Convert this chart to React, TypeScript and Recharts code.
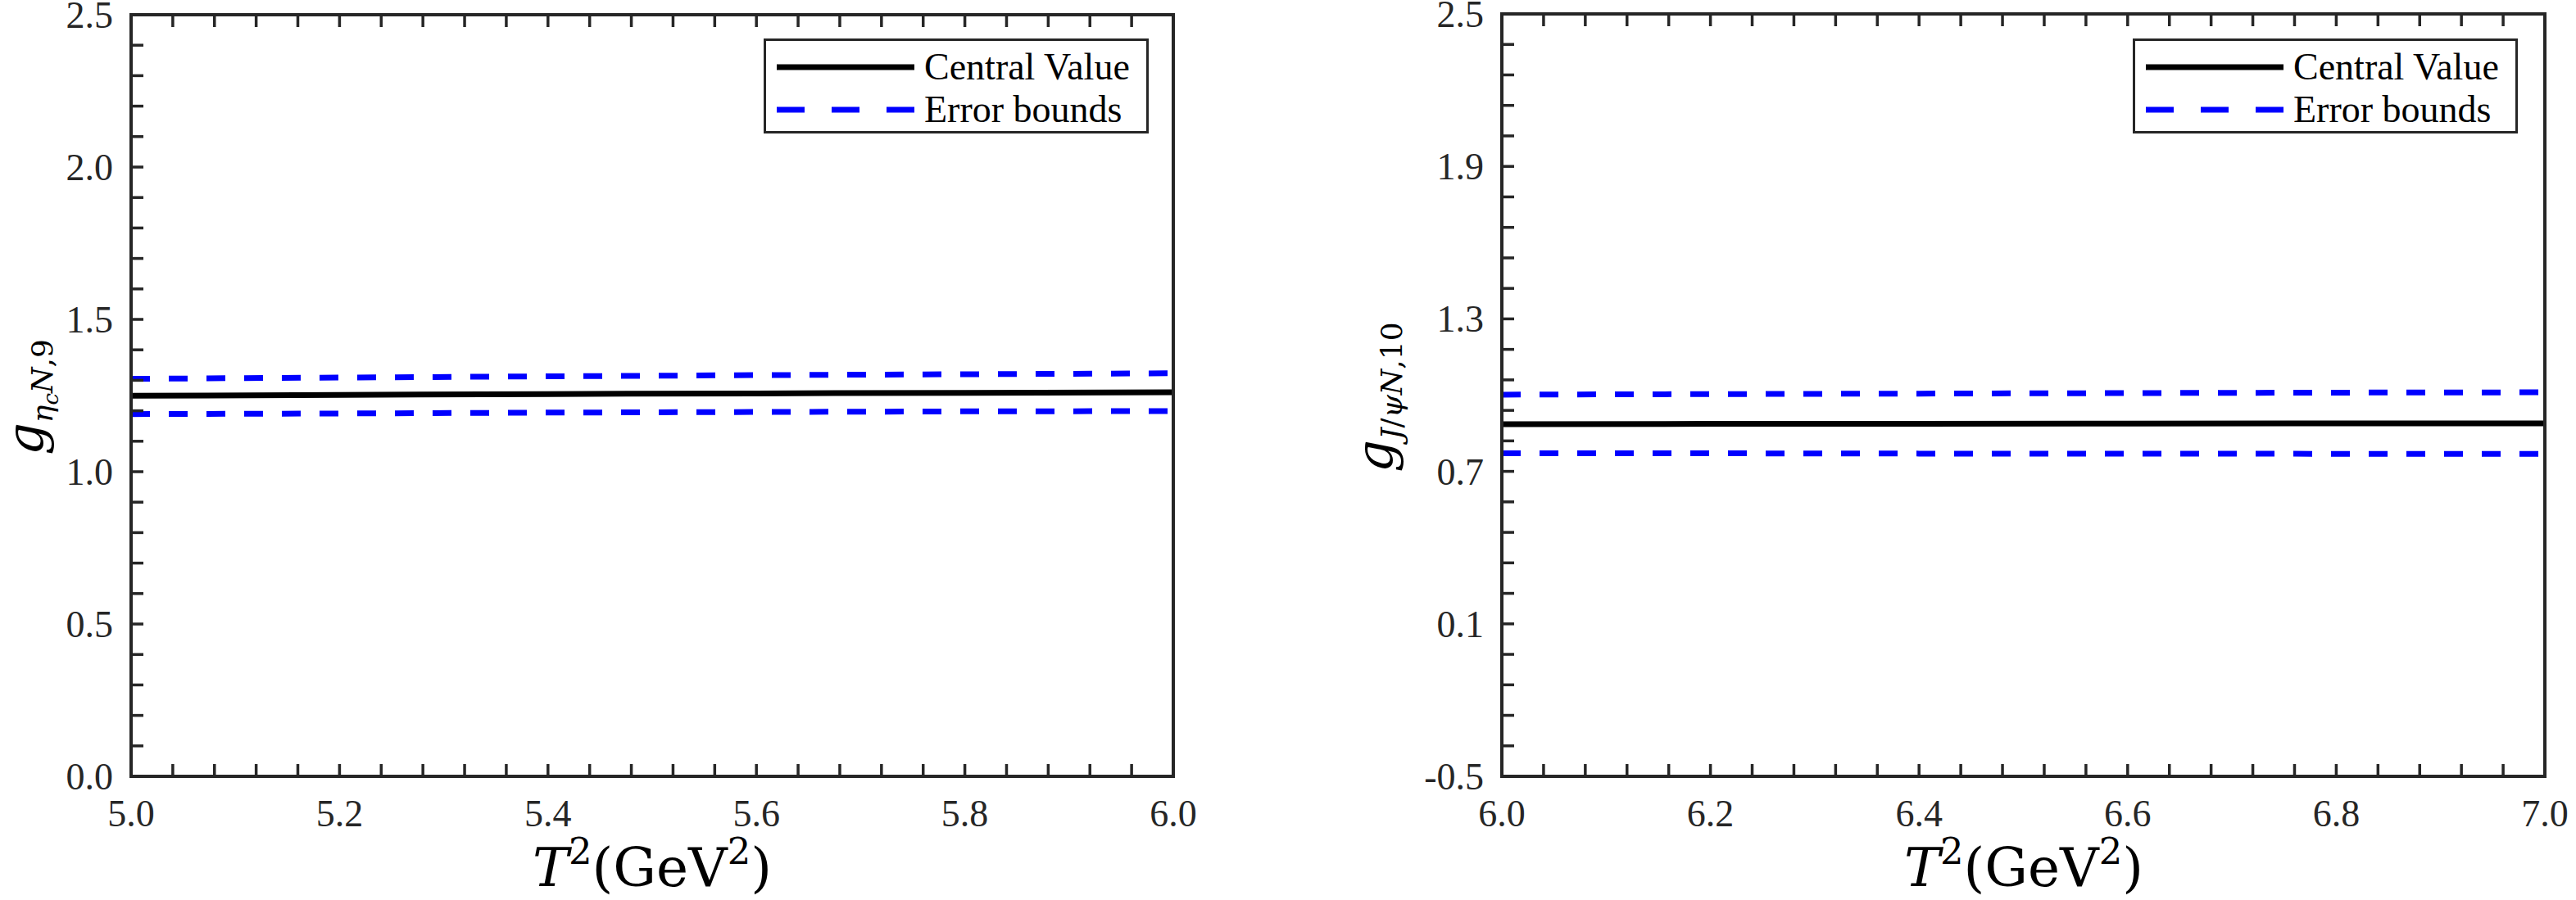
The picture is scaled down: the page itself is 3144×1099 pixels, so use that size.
import React from "react";
import { LineChart, Line, XAxis, YAxis, Legend } from "recharts";

// values
const leftT = [5.0, 5.2, 5.4, 5.6, 5.8, 6.0];
const leftCentral = [1.249, 1.252, 1.255, 1.257, 1.259, 1.261];
const leftUpper = [1.305, 1.309, 1.313, 1.317, 1.32, 1.323];
const leftLower = [1.189, 1.191, 1.194, 1.196, 1.198, 1.199];

const rightT = [6.0, 6.2, 6.4, 6.6, 6.8, 7.0];
const rightCentral = [0.886, 0.887, 0.887, 0.888, 0.889, 0.889];
const rightUpper = [1.002, 1.004, 1.006, 1.008, 1.01, 1.011];
const rightLower = [0.771, 0.771, 0.77, 0.77, 0.769, 0.769];

const leftXMajor = [5.0, 5.2, 5.4, 5.6, 5.8, 6.0];
const leftYMajor = [0, 0.5, 1.0, 1.5, 2.0, 2.5];
const rightXMajor = [6.0, 6.2, 6.4, 6.6, 6.8, 7.0];
const rightYMajor = [-0.5, 0.1, 0.7, 1.3, 1.9, 2.5];

const FONT = '"Liberation Serif", "Times New Roman", serif';
const MATH = '"DejaVu Serif", "Liberation Serif", serif';
const AXIS = "#262626";
const TICK_LEN = 15;
const H = 1099;

// majors plus 4 minor ticks between each pair
const withMinors = (majors: number[]) => {
  const out: number[] = [];
  majors.forEach((m, i) => {
    out.push(m);
    if (i < majors.length - 1) {
      const step = (majors[i + 1] - m) / 5;
      for (let k = 1; k < 5; k++) out.push(+(m + k * step).toFixed(4));
    }
  });
  return out;
};

const InTick = ({ x, y, payload, side, majors }: any) => {
  const v = payload.value;
  const major = majors.some((m: number) => Math.abs(m - v) < 1e-6);
  const dx = side === "left" ? TICK_LEN : side === "right" ? -TICK_LEN : 0;
  const dy = side === "bottom" ? -TICK_LEN : side === "top" ? TICK_LEN : 0;
  return (
    <g>
      <line x1={x} y1={y} x2={x + dx} y2={y + dy} stroke={AXIS} strokeWidth={3.5} />
      {major && side === "bottom" && (
        <text x={x} y={y + 61} textAnchor="middle" fontFamily={FONT} fontSize={46} fill={AXIS}>
          {v.toFixed(1)}
        </text>
      )}
      {major && side === "left" && (
        <text x={x - 22} y={y + 16} textAnchor="end" fontFamily={FONT} fontSize={46} fill={AXIS}>
          {v.toFixed(1)}
        </text>
      )}
    </g>
  );
};

const LegendBox = ({ payload }: any) => {
  // one row per name (upper and lower bounds share "Error bounds")
  const rows = (payload || []).filter(
    (p: any, i: number, all: any[]) => p.type !== "none" && all.findIndex((q: any) => q.value === p.value) === i
  );
  return (
    <div
      style={{
        width: 470,
        height: 116,
        boxSizing: "border-box",
        border: `3px solid ${AXIS}`,
        background: "#fff",
        position: "relative",
      }}
    >
      {rows.map((p: any, i: number) => (
        <div
          key={i}
          style={{ position: "absolute", left: 0, top: 6 + i * 52, height: 52, display: "flex", alignItems: "center" }}
        >
          <svg width={193} height={52}>
            <line
              x1={13}
              x2={181}
              y1={26}
              y2={26}
              stroke={p.color}
              strokeWidth={7}
              strokeDasharray={p.payload && p.payload.strokeDasharray ? "34 33" : undefined}
            />
          </svg>
          <span style={{ fontFamily: FONT, fontSize: 46, color: "#000", lineHeight: "52px", whiteSpace: "nowrap" }}>
            {p.value}
          </span>
        </div>
      ))}
    </div>
  );
};

const axisLine = { stroke: AXIS, strokeWidth: 4, strokeLinecap: "square" as const };

type PanelProps = {
  t: number[];
  central: number[];
  upper: number[];
  lower: number[];
  xMajor: number[];
  yMajor: number[];
  width: number;
  margin: { top: number; right: number; bottom: number; left: number };
  legendLeft: number;
};

const Panel = ({ t, central, upper, lower, xMajor, yMajor, width, margin, legendLeft }: PanelProps) => {
  const data = t.map((v, i) => ({ t: v, central: central[i], upper: upper[i], lower: lower[i] }));
  const xTicks = withMinors(xMajor);
  const yTicks = withMinors(yMajor);
  const xDomain = [xMajor[0], xMajor[xMajor.length - 1]];
  const yDomain = [yMajor[0], yMajor[yMajor.length - 1]];
  const common = { type: "number" as const, interval: 0 as const, tickSize: 0, tickMargin: 0, tickLine: false, axisLine };

  return (
    <LineChart width={width} height={H} data={data} margin={margin}>
      <XAxis
        {...common}
        xAxisId="b"
        dataKey="t"
        domain={xDomain}
        ticks={xTicks}
        height={100}
        tick={(p: any) => <InTick {...p} side="bottom" majors={xMajor} />}
      />
      <XAxis
        {...common}
        xAxisId="top"
        orientation="top"
        dataKey="t"
        domain={xDomain}
        ticks={xTicks}
        height={10}
        tick={(p: any) => <InTick {...p} side="top" majors={xMajor} />}
      />
      <YAxis
        {...common}
        yAxisId="l"
        domain={yDomain}
        ticks={yTicks}
        width={100}
        tick={(p: any) => <InTick {...p} side="left" majors={yMajor} />}
      />
      <YAxis
        {...common}
        yAxisId="r"
        orientation="right"
        domain={yDomain}
        ticks={yTicks}
        width={20}
        tick={(p: any) => <InTick {...p} side="right" majors={yMajor} />}
      />
      <Legend
        layout="horizontal"
        verticalAlign="middle"
        align="center"
        content={<LegendBox />}
        wrapperStyle={{ left: legendLeft, top: 47, width: 470, height: 116 }}
      />
      <Line
        xAxisId="b"
        yAxisId="l"
        type="linear"
        dataKey="central"
        name="Central Value"
        stroke="#000000"
        strokeWidth={7}
        dot={false}
        isAnimationActive={false}
      />
      <Line
        xAxisId="b"
        yAxisId="l"
        type="linear"
        dataKey="upper"
        name="Error bounds"
        stroke="#0000ff"
        strokeWidth={7}
        strokeDasharray="23 23"
        dot={false}
        isAnimationActive={false}
      />
      <Line
        xAxisId="b"
        yAxisId="l"
        type="linear"
        dataKey="lower"
        name="Error bounds"
        legendType="none"
        stroke="#0000ff"
        strokeWidth={7}
        strokeDasharray="23 23"
        dot={false}
        isAnimationActive={false}
      />
    </LineChart>
  );
};

const sup: React.CSSProperties = { fontSize: "0.68em", position: "relative", top: "-0.6em", fontStyle: "normal" };

const XTitle = ({ cx }: { cx: number }) => (
  <div
    style={{
      position: "absolute",
      left: cx,
      top: 1032,
      transform: "translateX(-50%)",
      fontFamily: MATH,
      fontSize: 66,
      lineHeight: "56px",
      whiteSpace: "nowrap",
      color: "#000",
    }}
  >
    <i>T</i>
    <span style={sup}>2</span>(GeV<span style={sup}>2</span>)
  </div>
);

const YTitle = ({ cx, children }: { cx: number; children: React.ReactNode }) => (
  <div
    style={{
      position: "absolute",
      left: cx,
      top: 485,
      transform: "translate(-50%, -50%) rotate(-90deg)",
      fontFamily: MATH,
      fontSize: 62,
      lineHeight: "62px",
      whiteSpace: "nowrap",
      color: "#000",
    }}
  >
    {children}
  </div>
);

const sub: React.CSSProperties = { fontSize: 36, position: "relative", top: 12 };
const subsub: React.CSSProperties = { fontSize: 26, position: "relative", top: 7 };

export default function App() {
  return (
    <div style={{ position: "absolute", left: 0, top: 0, width: 3144, height: H, background: "#fff" }}>
      <div style={{ position: "absolute", left: 0, top: 0 }}>
        <Panel
          t={leftT}
          central={leftCentral}
          upper={leftUpper}
          lower={leftLower}
          xMajor={leftXMajor}
          yMajor={leftYMajor}
          width={1560}
          margin={{ top: 8, right: 108, bottom: 51, left: 60 }}
          legendLeft={932}
        />
      </div>
      <div style={{ position: "absolute", left: 1570, top: 0 }}>
        <Panel
          t={rightT}
          central={rightCentral}
          upper={rightUpper}
          lower={rightLower}
          xMajor={rightXMajor}
          yMajor={rightYMajor}
          width={1574}
          margin={{ top: 7, right: 18, bottom: 51, left: 163 }}
          legendLeft={1033}
        />
      </div>
      <XTitle cx={796} />
      <XTitle cx={2470} />
      <YTitle cx={37}>
        <i>g</i>
        <span style={sub}>
          <i>η</i>
          <span style={subsub}>
            <i>c</i>
          </span>
          <i>N</i>,9
        </span>
      </YTitle>
      <YTitle cx={1682}>
        <i>g</i>
        <span style={sub}>
          <i>J</i>/<i>ψ</i>
          <i>N</i>,10
        </span>
      </YTitle>
    </div>
  );
}
